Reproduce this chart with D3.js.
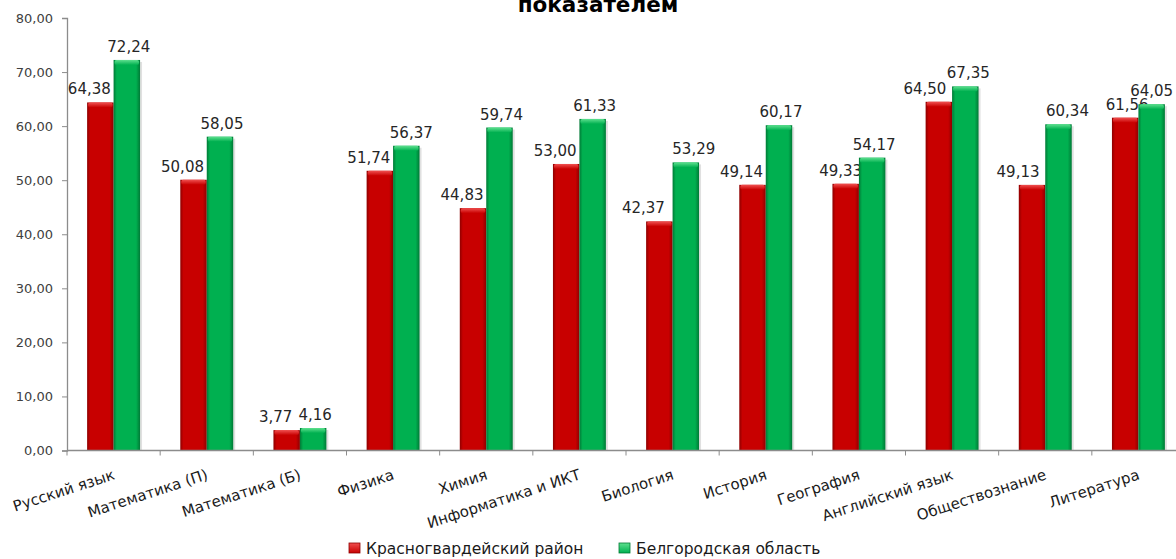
<!DOCTYPE html>
<html>
<head>
<meta charset="utf-8">
<script src="https://cdn.jsdelivr.net/npm/d3@7"></script>
<style>
  html, body { margin: 0; padding: 0; background: #fff; }
  svg { display: block; font-family: 'DejaVu Sans', Verdana, sans-serif; }
</style>
</head>
<body>
<svg id="chart"></svg>
<script>
(function () {
  'use strict';

  // chart data
  var subjects = ['Русский язык', 'Математика (П)', 'Математика (Б)', 'Физика', 'Химия',
    'Информатика и ИКТ', 'Биология', 'История', 'География', 'Английский язык',
    'Обществознание', 'Литература'];
  var seriesNames = ['Красногвардейский район', 'Белгородская область'];
  var districtValues = [64.38, 50.08, 3.77, 51.74, 44.83, 53.00, 42.37, 49.14, 49.33, 64.50, 49.13, 61.56];
  var regionValues = [72.24, 58.05, 4.16, 56.37, 59.74, 61.33, 53.29, 60.17, 54.17, 67.35, 60.34, 64.05];
  var yTicks = [0, 10, 20, 30, 40, 50, 60, 70, 80];
  var titleTail = 'показателем';

  var W = 1176, H = 559;
  var left = 67, right = 1185, top = 18, bottom = 450.5;

  var colors = [
    { main: '#c80000', dark: '#8e0000', light: '#f05050' },
    { main: '#00b050', dark: '#007a36', light: '#5fe08f' }
  ];

  // label nudges (Excel put labels slightly off centre)
  var nudgeDefault = [-11, 2];
  var nudgeOverride = {
    'Физика': [-11, 5], 'Биология': [-16, 8], 'География': [-5, 2],
    'Английский язык': [-14, 3], 'Обществознание': [-14, 9], 'Литература': [2, 0]
  };

  var ru = d3.formatLocale({ decimal: ',', thousands: ' ', grouping: [3], currency: ['', ''] });
  var fmt = ru.format('.2f');

  var rows = subjects.map(function (s, i) {
    return { subject: s, values: [districtValues[i], regionValues[i]] };
  });

  var svg = d3.select('#chart').attr('width', W).attr('height', H);
  var defs = svg.append('defs');

  colors.forEach(function (c, i) {
    var g = defs.append('linearGradient').attr('id', 'side' + i)
      .attr('x1', 0).attr('x2', 1).attr('y1', 0).attr('y2', 0);
    g.append('stop').attr('offset', '0%').attr('stop-color', c.dark);
    g.append('stop').attr('offset', '12%').attr('stop-color', c.main);
    g.append('stop').attr('offset', '85%').attr('stop-color', c.main);
    g.append('stop').attr('offset', '100%').attr('stop-color', c.dark);

    var t = defs.append('linearGradient').attr('id', 'cap' + i)
      .attr('x1', 0).attr('x2', 0).attr('y1', 0).attr('y2', 1);
    t.append('stop').attr('offset', '0%').attr('stop-color', c.light);
    t.append('stop').attr('offset', '100%').attr('stop-color', c.main);
  });

  var x0 = d3.scaleBand().domain(subjects).range([left, right]).padding(0);
  var x1 = d3.scaleBand().domain([0, 1]).range([0, x0.bandwidth()])
    .paddingInner(0).paddingOuter(0.76);
  var y = d3.scaleLinear().domain([0, 80]).range([bottom, top]);

  // title (only last line is inside the frame)
  svg.append('text')
    .attr('x', 598).attr('y', 12)
    .attr('text-anchor', 'middle')
    .style('font-size', '21.5px').style('font-weight', 'bold').style('fill', '#000')
    .text(titleTail);

  // y axis
  var yAxis = svg.append('g')
    .attr('transform', 'translate(' + left + ',0)')
    .call(d3.axisLeft(y).tickValues(yTicks).tickSize(5).tickPadding(9).tickFormat(fmt));
  yAxis.select('.domain').attr('stroke', '#8c8c8c').attr('stroke-width', 1.3);
  yAxis.selectAll('.tick line').attr('stroke', '#8c8c8c');
  yAxis.selectAll('.tick text')
    .style('font-family', "'DejaVu Sans', Verdana, sans-serif")
    .style('font-size', '13px').style('fill', '#404040');

  // bars
  var groups = svg.selectAll('g.grp')
    .data(rows)
    .enter()
    .append('g')
    .attr('class', 'grp')
    .attr('transform', function (d) { return 'translate(' + x0(d.subject) + ',0)'; });

  var bars = groups.selectAll('g.bar')
    .data(function (d) {
      return d.values.map(function (v, k) { return { subject: d.subject, s: k, v: v }; });
    })
    .enter()
    .append('g')
    .attr('class', 'bar');

  bars.append('rect')
    .attr('x', function (d) { return x1(d.s) + 2; })
    .attr('y', function (d) { return y(d.v) + 2; })
    .attr('width', x1.bandwidth())
    .attr('height', function (d) { return bottom - y(d.v) - 2; })
    .style('fill', '#000').style('opacity', 0.12);

  bars.append('rect')
    .attr('x', function (d) { return x1(d.s); })
    .attr('y', function (d) { return y(d.v); })
    .attr('width', x1.bandwidth())
    .attr('height', function (d) { return bottom - y(d.v); })
    .style('fill', function (d) { return 'url(#side' + d.s + ')'; });

  bars.append('rect')
    .attr('x', function (d) { return x1(d.s) + 1; })
    .attr('y', function (d) { return y(d.v); })
    .attr('width', x1.bandwidth() - 2)
    .attr('height', function (d) { return Math.min(5, bottom - y(d.v)); })
    .attr('rx', 2)
    .style('fill', function (d) { return 'url(#cap' + d.s + ')'; });

  bars.append('text')
    .attr('x', function (d) {
      var n = nudgeOverride[d.subject] || nudgeDefault;
      return x1(d.s) + x1.bandwidth() / 2 + n[d.s];
    })
    .attr('y', function (d) { return y(d.v) - 8; })
    .attr('text-anchor', 'middle')
    .style('font-size', '15px').style('fill', '#262626')
    .text(function (d) { return fmt(d.v); });

  // x axis
  svg.append('line')
    .attr('x1', left).attr('x2', right).attr('y1', bottom).attr('y2', bottom)
    .attr('stroke', '#8c8c8c').attr('stroke-width', 1.3);

  svg.selectAll('line.xtick')
    .data(subjects)
    .enter()
    .append('line')
    .attr('class', 'xtick')
    .attr('x1', function (d) { return x0(d); })
    .attr('x2', function (d) { return x0(d); })
    .attr('y1', bottom).attr('y2', bottom + 5)
    .attr('stroke', '#8c8c8c');

  svg.selectAll('text.xlab')
    .data(subjects)
    .enter()
    .append('text')
    .attr('class', 'xlab')
    .attr('text-anchor', 'end')
    .attr('transform', function (d) {
      return 'translate(' + (x0(d) + x0.bandwidth() / 2 + 2) + ',479) rotate(-18)';
    })
    .style('font-size', '15px').style('fill', '#1a1a1a')
    .text(function (d) { return d; });

  // legend
  var legend = svg.selectAll('g.leg')
    .data(seriesNames)
    .enter()
    .append('g')
    .attr('class', 'leg')
    .attr('transform', function (d, i) { return 'translate(' + (i === 0 ? 349 : 619) + ',543)'; });

  legend.append('rect')
    .attr('width', 11).attr('height', 10)
    .style('fill', function (d, i) { return 'url(#cap' + i + ')'; })
    .style('stroke', function (d, i) { return colors[i].dark; }).style('stroke-width', 0.8);

  legend.append('text')
    .attr('x', 17).attr('y', 11)
    .style('font-size', '15.5px').style('fill', '#1a1a1a')
    .text(function (d) { return d; });
} ());
</script>
</body>
</html>
